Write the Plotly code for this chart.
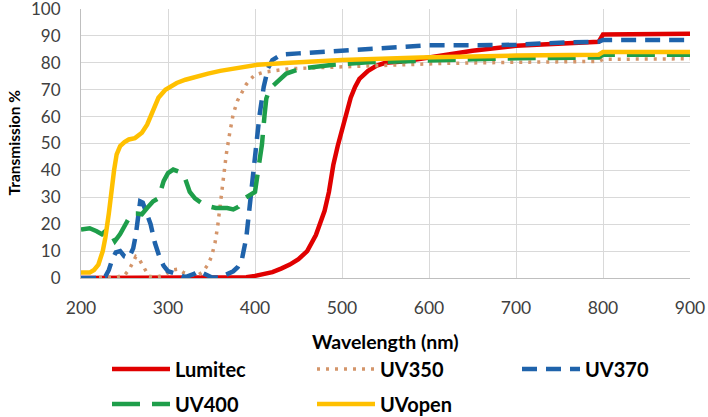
import plotly.graph_objects as go

# ---------------- data ----------------
lumitec_wl = [200, 300, 380, 390, 400, 410, 420, 430, 440, 450, 460, 470, 475, 480, 485, 490,
              495, 500, 505, 510, 515, 520, 530, 540, 550, 570, 600, 650, 700, 750, 795, 800, 850, 900]
lumitec_t = [0, 0, 0, 0.3, 0.8, 1.5, 2.2, 3.5, 5, 7, 10, 16, 21, 25, 32, 42,
             49, 55, 62, 67, 71, 74, 77, 79, 80, 80.5, 82, 84.5, 86.3, 87.2, 87.8, 90.5, 90.7, 90.8]

uv350_wl = [200, 220, 240, 250, 255, 260, 263, 266, 270, 274, 278, 285, 295, 300, 305, 312, 318,
            325, 333, 340, 346, 350, 354, 357, 360, 363, 367, 371, 375, 380, 385, 390, 395, 400,
            410, 420, 440, 500, 560, 620, 700, 795, 800, 900]
uv350_t = [0, 0, 0.3, 1, 3, 6, 8, 7.5, 5, 2.5, 0.7, 0.2, 1, 2, 3, 3.3, 2,
           1.3, 0.7, 2.3, 5, 8, 13, 19, 27, 37, 46, 54, 61, 66, 69, 72, 74, 75.5,
           76.5, 77, 77.8, 78.5, 79.2, 79.8, 80.2, 80.5, 81.3, 81.5]

uv370_wl = [200, 210, 220, 228, 232, 236, 240, 245, 250, 255, 260, 263, 266, 268, 271, 275, 280,
            285, 290, 295, 300, 310, 320, 330, 335, 340, 350, 360, 370, 375, 380, 385, 390, 395,
            400, 405, 410, 415, 420, 430, 450, 500, 550, 600, 650, 700, 750, 795, 800, 900]
uv370_t = [0, 0, 0, 0.5, 3, 7, 9.5, 10, 8, 7.5, 11, 16, 25, 28.5, 28, 24.5, 20,
           13, 8, 4.5, 2.5, 1.5, 0.3, 1.5, 2.5, 1.8, 0.3, 0.2, 1.5, 2.5, 4, 7, 15, 30,
           47, 60, 71, 78, 81, 83, 83.5, 84.5, 85.5, 86.5, 86.5, 86.7, 87.5, 87.8, 88.5, 88.5]

uv400_wl = [200, 210, 218, 224, 230, 235, 239, 245, 253, 258, 264, 270, 276, 283, 289, 295, 300,
            306, 312, 318, 325, 331, 339, 346, 355, 368, 375, 381, 388, 395, 400, 404, 408, 411,
            413, 417, 425, 436, 452, 490, 530, 600, 650, 700, 795, 800, 900]
uv400_t = [18, 18.5, 17.4, 16.3, 18, 16, 13.7, 16.3, 21, 24, 24, 23.7, 26, 28.5, 29.6, 36, 39,
           40.3, 39.6, 38.5, 32, 29.6, 27.8, 26.7, 26, 26, 25.5, 26.5, 29.6, 31, 32, 41, 49.6, 60.7,
           66.7, 70.4, 73, 76, 77.8, 79.3, 80.2, 81, 81.3, 81.7, 82, 83, 83]

uvopen_wl = [200, 210, 215, 220, 225, 228, 232, 235, 238, 241, 245, 250, 255, 262, 266, 270, 276,
             282, 289, 297, 310, 320, 333, 346, 360, 373, 390, 403, 440, 500, 590, 650, 700, 795,
             800, 900]
uvopen_t = [2, 2, 3, 5, 10, 15, 24, 33, 40, 46, 49, 50.5, 51.5, 52, 53, 54, 57,
            62, 67, 70, 72.5, 73.7, 75, 76, 77, 77.8, 78.7, 79.3, 80, 81, 82, 82.5, 82.7, 83,
            84, 84]

x_ticks = [200, 300, 400, 500, 600, 700, 800, 900]
y_ticks = [0, 10, 20, 30, 40, 50, 60, 70, 80, 90, 100]

# ---------------- figure ----------------
FONT = "Lato"
W, H = 708, 417
ML, MR, MT, MB = 81, 18, 9, 139
PW, PH = W - ML - MR, H - MT - MB

fig = go.Figure()

fig.add_trace(go.Scatter(x=lumitec_wl, y=lumitec_t, name="Lumitec", mode="lines",
                         line=dict(color="#e00000", width=4.5), legend="legend"))
fig.add_trace(go.Scatter(x=uv350_wl, y=uv350_t, name="UV350", mode="lines",
                         line=dict(color="#d4956a", width=3.5, dash="3px,6px"), legend="legend2"))
fig.add_trace(go.Scatter(x=uv370_wl, y=uv370_t, name="UV370", mode="lines",
                         line=dict(color="#1f63ab", width=4.5, dash="15px,9px"), legend="legend3"))
fig.add_trace(go.Scatter(x=uv400_wl, y=uv400_t, name="UV400", mode="lines",
                         line=dict(color="#1e9e4a", width=4.5, dash="28px,12px"), legend="legend4"))
fig.add_trace(go.Scatter(x=uvopen_wl, y=uvopen_t, name="UVopen", mode="lines",
                         line=dict(color="#ffc000", width=4.5), legend="legend5"))

legend_common = dict(orientation="h", font=dict(family=FONT, size=20, color="#000000", weight="bold"),
                     bgcolor="rgba(0,0,0,0)", itemwidth=58, xref="container", yref="container",
                     xanchor="left", yanchor="middle", tracegroupgap=0,
                     traceorder="normal", itemclick=False, itemdoubleclick=False)

row1, row2 = 1 - 369 / H, 1 - 404 / H
col1, col2, col3 = 107 / W, 312 / W, 517 / W

fig.update_layout(
    width=W, height=H,
    margin=dict(l=ML, r=MR, t=MT, b=MB, autoexpand=False),
    paper_bgcolor="white", plot_bgcolor="white",
    font=dict(family=FONT, size=17, color="#404040"),
    showlegend=True,
    legend=dict(**legend_common, x=col1, y=row1),
    legend2=dict(**legend_common, x=col2, y=row1),
    legend3=dict(**legend_common, x=col3, y=row1),
    legend4=dict(**legend_common, x=col1, y=row2),
    legend5=dict(**legend_common, x=col2, y=row2),
    xaxis=dict(range=[200, 900], tickvals=x_ticks, ticktext=[str(v) for v in x_ticks],
               showgrid=True, gridcolor="#d9d9d9", gridwidth=1,
               showline=True, linecolor="#bfbfbf", linewidth=1, zeroline=False,
               ticks="outside", ticklen=14, tickcolor="rgba(0,0,0,0)",
               ticklabeloverflow="allow",
               tickfont=dict(family=FONT, size=17.5, color="#404040")),
    yaxis=dict(range=[0, 100], tickvals=y_ticks, ticktext=[str(v) for v in y_ticks],
               showgrid=True, gridcolor="#d9d9d9", gridwidth=1,
               showline=True, linecolor="#bfbfbf", linewidth=1, zeroline=False,
               ticks="outside", ticklen=16, tickcolor="rgba(0,0,0,0)",
               ticklabeloverflow="allow",
               tickfont=dict(family=FONT, size=17, color="#404040")),
    annotations=[
        dict(text="<b>Wavelength (nm)</b>", xref="paper", yref="paper",
             x=0.5, y=-(341 - (MT + PH)) / PH, xanchor="center", yanchor="middle",
             showarrow=False, font=dict(family=FONT, size=19.5, color="#000000")),
        dict(text="<b>Transmission %</b>", xref="paper", yref="paper",
             x=(13 - ML) / PW, y=1 - (142.5 - MT) / PH, xanchor="center", yanchor="middle",
             textangle=-90, showarrow=False, font=dict(family=FONT, size=15.5, color="#000000")),
    ],
)

fig.write_html("out.html", config={"displayModeBar": False},
               post_script="document.body.style.margin='0';")
